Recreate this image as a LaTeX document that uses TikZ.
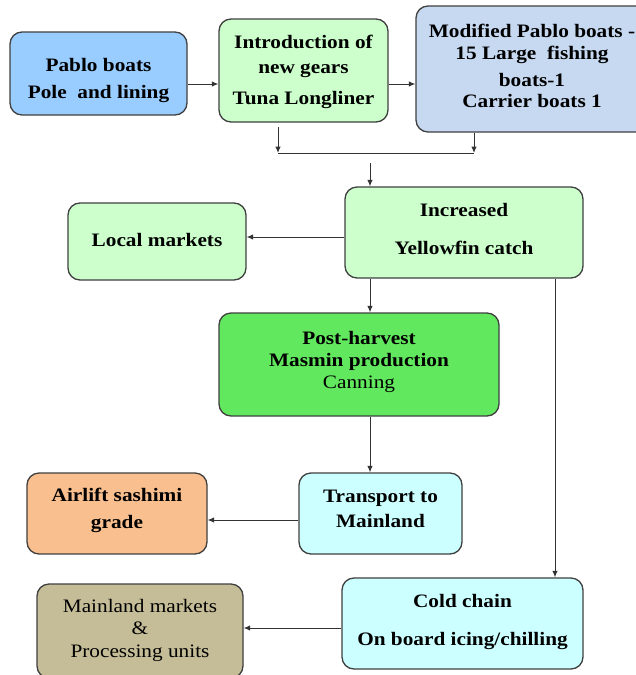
\documentclass[tikz,border=0pt]{standalone}
\usepackage{fontspec}
\setmainfont{Liberation Serif}[FakeStretch=1.12]
\usetikzlibrary{arrows.meta}
\definecolor{cPablo}{HTML}{99CCFF}
\definecolor{cLight}{HTML}{CCFFCC}
\definecolor{cMod}{HTML}{C6D9F1}
\definecolor{cPost}{HTML}{62E85E}
\definecolor{cCyan}{HTML}{CCFFFF}
\definecolor{cOrange}{HTML}{F9BF8F}
\definecolor{cTan}{HTML}{C4BD97}
\begin{document}
\begin{tikzpicture}[x=1pt,y=-1pt,
  box/.style={draw=black!75, line width=1.3pt, rounded corners=12pt, inner sep=0pt},
  txt/.style={align=center, inner sep=0pt, font=\bfseries\fontsize{19}{22}\selectfont},
  arr/.style={-{Latex[length=6.5pt,width=5.5pt]}, line width=1pt, draw=black!80},
  ln/.style={line width=1pt, draw=black!80}]
\useasboundingbox (0,0) rectangle (636,675);
\fill[white] (0,0) rectangle (636,675);
\clip (0,0) rectangle (636,675);

\node[box, fill=cPablo, minimum width=177pt, minimum height=83pt] (pablo) at (98.5,73.5) {};
\node[txt] (pablo-t) at ([yshift=-7.5pt]pablo.center) {Pablo boats\\[5pt] Pole\ \ and lining};

\node[box, fill=cLight, minimum width=169pt, minimum height=103pt] (intro) at (303.5,70.5) {};
\node[txt] (intro-t) at ([yshift=-1pt]intro.center) {Introduction of\\[3pt] new gears\\[9pt] Tuna Longliner};

\node[box, fill=cMod, minimum width=232pt, minimum height=126pt] (mod) at (532,69) {};
\node[txt] (mod-t) at ([yshift=3.5pt]mod.center) {Modified Pablo boats -\\ 15 Large\ \ fishing\\[5pt] boats-1\\[-1pt] Carrier boats 1};

\node[box, fill=cLight, minimum width=238pt, minimum height=91pt] (incr) at (464,232.5) {};
\node[txt] (incr-t) at ([yshift=4pt]incr.center) {Increased\\[16pt] Yellowfin catch};

\node[box, fill=cLight, minimum width=178pt, minimum height=77pt] (local) at (157,241.5) {};
\node[txt] (local-t) at ([yshift=2pt]local.center) {Local markets};

\node[box, fill=cPost, minimum width=280pt, minimum height=103pt] (post) at (359,364.5) {};
\node[txt] (post-t) at ([yshift=3pt]post.center) {Post-harvest\\ Masmin production\\ {\mdseries Canning}};

\node[box, fill=cCyan, minimum width=163pt, minimum height=81pt] (trans) at (380.5,513.5) {};
\node[txt] (trans-t) at ([yshift=5pt]trans.center) {Transport to\\[3pt] Mainland};

\node[box, fill=cOrange, minimum width=180pt, minimum height=81pt] (air) at (117,513.5) {};
\node[txt] (air-t) at ([yshift=3pt]air.center) {Airlift sashimi\\[5pt] grade};

\node[box, fill=cCyan, minimum width=241pt, minimum height=91pt] (cold) at (462.5,623.5) {};
\node[txt] (cold-t) at ([yshift=2pt]cold.center) {Cold chain\\[16pt] On board icing/chilling};

\node[box, fill=cTan, minimum width=206pt, minimum height=94pt] (main) at (140,631) {};
\node[txt, font=\mdseries\fontsize{19}{22.5}\selectfont] (main-t) at ([yshift=1pt]main.center) {Mainland markets\\ \&\\ Processing units};

\coordinate (y84) at (0,84);
\coordinate (a1) at (278,127);
\coordinate (a2) at (474,133);
\coordinate (mL) at (278,153);
\coordinate (mR) at (474,153);
\coordinate (m2) at (370,163);
\coordinate (y237) at (0,237);
\coordinate (x555) at (555,0);
\coordinate (y520) at (0,520);
\coordinate (y628) at (0,628);

\draw[arr] (pablo.east |- y84) -- (intro.west |- y84);
\draw[arr] (intro.east |- y84) -- (mod.west |- y84);
\draw[arr] (a1) -- (mL);
\draw[arr] (a2) -- (mR);
\draw[ln] (mL) -- (mR);
\draw[arr] (m2) -- (m2 |- incr.north);
\draw[arr] (incr.west |- y237) -- (local.east |- y237);
\draw[arr] (incr.south -| m2) -- (post.north -| m2);
\draw[arr] (incr.south -| x555) -- (cold.north -| x555);
\draw[arr] (post.south -| m2) -- (trans.north -| m2);
\draw[arr] (trans.west |- y520) -- (air.east |- y520);
\draw[arr] (cold.west |- y628) -- (main.east |- y628);
\end{tikzpicture}
\end{document}
